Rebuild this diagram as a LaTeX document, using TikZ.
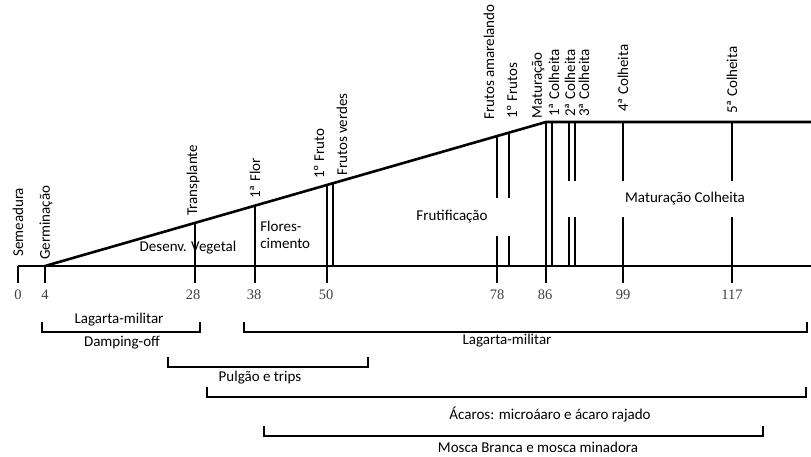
\documentclass[tikz,border=0pt]{standalone}
\usepackage{fontspec}
\setmainfont{Carlito}
\newfontfamily\numfont{Liberation Serif}
\usetikzlibrary{calc,positioning}

\begin{document}
\begin{tikzpicture}[x=1pt,y=-1pt,line width=2.6pt,font=\fontsize{15}{17}\selectfont]
\tikzset{
  vlbl/.style={rotate=90,anchor=west,inner sep=0pt},
  daylbl/.style={font=\numfont\fontsize{14.5}{16}\selectfont,text=black!75,inner sep=0pt},
  brk/.style={line width=1.8pt},
}
\useasboundingbox (0,0) rectangle (811,456);
% base line and growth outline
\coordinate (O) at (18,266);
\coordinate (E) at (811,266);
\coordinate (G) at (45,266);
\coordinate (M) at (546,122);
\coordinate (T) at (811,122);
\draw (O)--(E);
\draw (G)--(M)--(T);
% stages: lines from the slope down to the axis (and ticks)
\foreach \px/\lo in {195/283,255/283,327/283,333/266}{
  \draw (\px,{266-(\px-45)/501*144})--(\px,\lo);}
\foreach \px/\lo in {497/283,509/266}{
  \draw (\px,{266-(\px-45)/501*144})--(\px,198);
  \draw (\px,236)--(\px,\lo);}
\draw (546,122)--(546,283);
\draw (552,122)--(552,266);
\foreach \px/\lo in {569/266,575/266,623/283,732/283}{
  \draw (\px,122)--(\px,181);
  \draw (\px,217)--(\px,\lo);}
\draw (18,266)--(18,283);
\draw (45,266)--(45,283);
% days
\foreach \px/\d in {18/0,45/4,193/28,254/38,326/50,497/78,545/86,623/99,732/117}
  \node[daylbl] (d\d) at (\px,295) {\d};
% events
\node[vlbl] (sem) at (18,258) {Semeadura};
\node[vlbl] (ger) at (46,261) {Germinação};
\node[vlbl] (tra) at (193,217) {Transplante};
\node[vlbl] (flo) at (255,200) {1ª Flor};
\node[vlbl] (fru) at (319,180) {1º Fruto};
\node[vlbl] (fve) at (342,177) {Frutos verdes};
\node[vlbl] (fam) at (489,121) {Frutos amarelando};
\node[vlbl] (fr1) at (512,120) {1º Frutos};
\node[vlbl] (mat) at (538,120) {Maturação};
\foreach \px/\n in {554/1,570/2,584/3}
  \node[vlbl] (c\n) at (\px,118) {\n ª Colheita};
\node[vlbl] (c4) at (623,113) {4ª Colheita};
\node[vlbl] (c5) at (732,115) {5ª Colheita};
% phases
\node (veg) at (188,248) {Desenv. Vegetal};
\node[align=left,anchor=west,inner sep=0pt] (flr) at (259,235) {Flores-\\cimento};
\node (frt) at (452,217) {Frutificação};
\node (mco) at (685,199) {Maturação Colheita};
% pests and diseases
\foreach \a/\b/\y in {42/200/332,244/807/332,168/368/367,207/806/397,264/763/436}
  \draw[brk] (\a,\y-10)--(\a,\y)--(\b,\y)--(\b,\y-10);
\node (lm1) at (119,320) {Lagarta-militar};
\node (dam) at (122,343) {Damping-off};
\node (lm2) at (507,341) {Lagarta-militar};
\node (pul) at (260,378) {Pulgão e trips};
\node (aca) at (550,415) {Ácaros: microáaro e ácaro rajado};
\node[inner sep=1pt] (mos) at (538,447) {Mosca Branca e mosca minadora};
\end{tikzpicture}
\end{document}
